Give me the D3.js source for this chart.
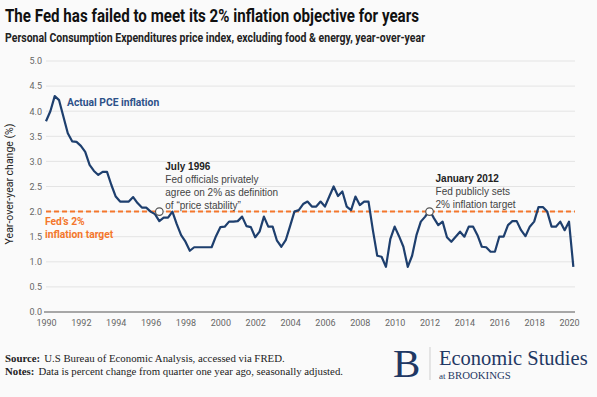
<!DOCTYPE html>
<html>
<head>
<meta charset="utf-8">
<script src="https://cdn.jsdelivr.net/npm/d3@7"></script>
<style>
  body { margin: 0; background: #fafafa; }
  svg { display: block; }
  .tick text { fill: #666; font-family: "Liberation Sans Narrow", "Roboto", sans-serif; }
</style>
</head>
<body>
<div class="chart"></div>
<script>
// quarterly core PCE, year-over-year %, 1990Q1 .. 2020Q2
const startYear = 1990
const pceValues = [
  3.80, 4.00, 4.30, 4.22,  3.89, 3.56, 3.40, 3.39,  3.31, 3.19, 2.93, 2.81,
  2.73, 2.79, 2.79, 2.53,  2.30, 2.20, 2.20, 2.20,  2.29, 2.17, 2.08, 2.08,
  2.00, 1.95, 1.81, 1.88,  1.88, 2.00, 1.75, 1.53,  1.40, 1.22, 1.29, 1.29,
  1.29, 1.29, 1.29, 1.51,  1.69, 1.70, 1.80, 1.80,  1.81, 1.90, 1.71, 1.69,
  1.49, 1.60, 1.90, 1.70,  1.70, 1.42, 1.30, 1.43,  1.71, 2.00, 2.03, 2.15,
  2.20, 2.10, 2.10, 2.20,  2.10, 2.30, 2.50, 2.31,  2.40, 2.10, 2.03, 2.30,
  2.13, 2.20, 2.20, 1.63,  1.12, 1.10, 0.90, 1.45,  1.70, 1.51, 1.30, 0.90,
  1.12, 1.53, 1.80, 1.90,  2.03, 1.87, 1.73, 1.80,  1.49, 1.40, 1.50, 1.60,
  1.50, 1.70, 1.70, 1.53,  1.30, 1.29, 1.20, 1.20,  1.50, 1.50, 1.73, 1.81,
  1.81, 1.63, 1.51, 1.70,  1.80, 2.09, 2.09, 2.00,  1.70, 1.70, 1.80, 1.63,
  1.80, 0.90
]
const xTicks = d3.range(1990, 2021, 2)
const yTicks = [0, 0.5, 1, 1.5, 2, 2.5, 3, 3.5, 4, 4.5, 5]
const target = 2
const markers = [
  { year: 1996.5, value: 2.0 },
  { year: 2012.0, value: 2.0 }
]
const notes = [
  { year: 1996.5, dy: -42, lines: ['July 1996', 'Fed officials privately', 'agree on 2% as definition', 'of \u201cprice stability\u201d'] },
  { year: 2012.0, dy: -30, lines: ['January 2012', 'Fed publicly sets', '2% inflation target'] }
]

const width = 597, height = 397
const svg = d3.select('.chart').append('svg').attr('width', width).attr('height', height)
svg.append('rect').attr('width', width).attr('height', height).attr('fill', '#fafafa')

const x = d3.scaleLinear().domain([1990, 2020]).range([46, 569])
const y = d3.scaleLinear().domain([0, 5]).range([312, 61])
const gridRight = 575

// title + subtitle
svg.append('text').attr('x', 5).attr('y', 22)
  .attr('font-family', '"Liberation Sans Narrow", Roboto, sans-serif')
  .attr('font-weight', 'bold').attr('font-size', 19).attr('fill', '#111')
  .attr('textLength', 414).attr('lengthAdjust', 'spacingAndGlyphs')
  .text('The Fed has failed to meet its 2% inflation objective for years')
svg.append('text').attr('x', 5).attr('y', 42)
  .attr('font-family', '"Liberation Sans Narrow", Roboto, sans-serif')
  .attr('font-weight', 'bold').attr('font-size', 12.5).attr('fill', '#222')
  .attr('textLength', 420).attr('lengthAdjust', 'spacingAndGlyphs')
  .text('Personal Consumption Expenditures price index, excluding food & energy, year-over-year')

// grid
svg.append('g').selectAll('line').data(yTicks.filter(d => d > 0)).join('line')
  .attr('x1', 46).attr('x2', gridRight)
  .attr('y1', d => y(d)).attr('y2', d => y(d))
  .attr('stroke', '#e4e4e4').attr('stroke-width', 1)

// y axis labels
const yAxis = svg.append('g').attr('transform', 'translate(42,0)')
  .call(d3.axisLeft(y).tickValues(yTicks).tickFormat(d3.format('.1f')).tickSize(0).tickPadding(0))
yAxis.select('.domain').remove()
yAxis.selectAll('text').attr('font-size', 9)

// baseline
svg.append('line').attr('x1', 44).attr('x2', gridRight).attr('y1', y(0)).attr('y2', y(0))
  .attr('stroke', '#555').attr('stroke-width', 1)

// x axis labels
const xAxis = svg.append('g').attr('transform', `translate(0,${y(0) + 6})`)
  .call(d3.axisBottom(x).tickValues(xTicks).tickFormat(d3.format('d')).tickSize(0).tickPadding(2))
xAxis.select('.domain').remove()
xAxis.selectAll('text').attr('font-size', 9)

// y title
svg.append('text').attr('transform', `translate(13,${y(2.55)}) rotate(-90)`)
  .attr('text-anchor', 'middle')
  .attr('font-family', '"Liberation Sans Narrow", Roboto, sans-serif')
  .attr('font-size', 10.5).attr('fill', '#222')
  .text('Year-over-year change (%)')

// target line
svg.append('line').attr('x1', 46).attr('x2', gridRight).attr('y1', y(target)).attr('y2', y(target))
  .attr('stroke', '#f4772c').attr('stroke-width', 2).attr('stroke-dasharray', '5,3')

// series line
const line = d3.line().x((d, i) => x(startYear + i / 4)).y(d => y(d))
svg.append('path').datum(pceValues)
  .attr('d', line).attr('fill', 'none')
  .attr('stroke', '#1e3f6e').attr('stroke-width', 2.2).attr('stroke-linejoin', 'round')

// markers
svg.append('g').selectAll('circle').data(markers).join('circle')
  .attr('cx', d => x(d.year)).attr('cy', d => y(d.value)).attr('r', 3.8)
  .attr('fill', '#fff').attr('stroke', '#555').attr('stroke-width', 1.2)

// series / target labels
const fontCond = '"Liberation Sans Narrow", Roboto, sans-serif'
svg.append('text').attr('x', 67).attr('y', 106)
  .attr('font-family', fontCond).attr('font-weight', 'bold').attr('font-size', 10.3)
  .attr('fill', '#2d5189').text('Actual PCE inflation')
svg.append('g').selectAll('text').data(['Fed\u2019s 2%', 'inflation target']).join('text')
  .attr('x', 45).attr('y', (d, i) => 225 + i * 13)
  .attr('font-family', fontCond).attr('font-weight', 'bold').attr('font-size', 10.3)
  .attr('fill', '#f4772c').text(d => d)

// annotations
notes.forEach(n => {
  svg.append('g').selectAll('text').data(n.lines).join('text')
    .attr('x', x(n.year) + 6).attr('y', (d, i) => y(2) + n.dy + i * 13)
    .attr('font-family', '"Liberation Sans", Arial, sans-serif')
    .attr('font-weight', (d, i) => i === 0 ? 'bold' : 'normal')
    .attr('font-size', 10).attr('fill', (d, i) => i === 0 ? '#222' : '#444')
    .text(d => d)
})

// footer
const serif = '"Liberation Serif", "DejaVu Serif", serif'
const foot = [['Source:', 'U.S Bureau of Economic Analysis, accessed via FRED.'],
              ['Notes:', 'Data is percent change from quarter one year ago, seasonally adjusted.']]
foot.forEach((f, i) => {
  const t = svg.append('text').attr('x', 5).attr('y', 362 + i * 13)
    .attr('font-family', serif).attr('font-size', 10.8).attr('fill', '#222')
  t.append('tspan').attr('font-weight', 'bold').text(f[0])
  t.append('tspan').attr('dx', 4).text(f[1])
})

// logo
svg.append('text').attr('x', 393).attr('y', 377)
  .attr('font-family', serif).attr('font-size', 41).attr('fill', '#1f3864').text('B')
svg.append('line').attr('x1', 430).attr('x2', 430).attr('y1', 347).attr('y2', 380)
  .attr('stroke', '#cfcfcf').attr('stroke-width', 1)
svg.append('text').attr('x', 439).attr('y', 365)
  .attr('font-family', serif).attr('font-size', 20.5).attr('fill', '#1f3864').text('Economic Studies')
const at = svg.append('text').attr('x', 439).attr('y', 378.5)
  .attr('font-family', serif).attr('font-size', 10.8).attr('fill', '#1f3864')
at.append('tspan').attr('font-size', 9).text('at ')
at.append('tspan').text('BROOKINGS')
</script>
</body>
</html>
